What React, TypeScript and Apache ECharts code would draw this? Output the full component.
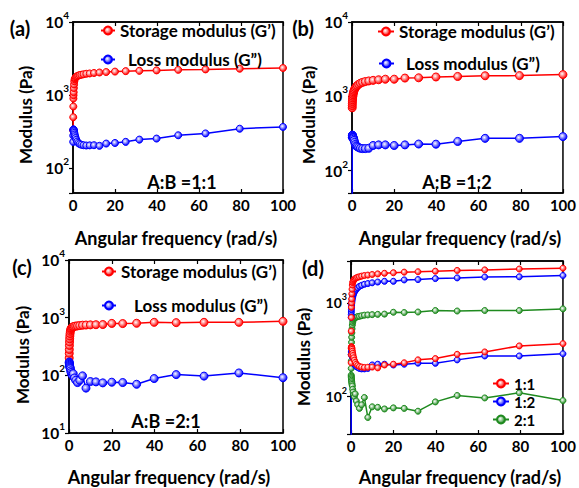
import React, { useEffect, useRef } from 'react';
import * as echarts from 'echarts';

// Angular frequency (rad/s), 10 points per decade
const FREQ = [0.1, 0.126, 0.158, 0.2, 0.251, 0.316, 0.398, 0.501, 0.631, 0.794, 1, 1.26, 1.58, 2, 2.51, 3.16, 3.98, 5.01, 6.31, 7.94, 10, 12.6, 15.8, 20, 25.1, 31.6, 39.8, 50.1, 63.1, 79.4, 100];

// A:B = 1:1
const A_STORAGE = [330, 500, 700, 900, 1000, 1100, 1250, 1400, 1550, 1650, 1700, 1750, 1790, 1820, 1850, 1880, 1900, 1930, 1960, 1980, 2010, 2040, 2070, 2100, 2130, 2150, 2180, 2220, 2250, 2300, 2350];
const A_LOSS = [230, 280, 330, 340, 340, 335, 330, 320, 305, 290, 275, 260, 245, 232, 222, 215, 210, 207, 205, 206, 207, 203, 218, 222, 230, 247, 255, 283, 300, 348, 368];
// A:B = 1:2
const B_STORAGE = [700, 750, 800, 850, 900, 950, 1000, 1050, 1100, 1150, 1200, 1250, 1300, 1350, 1400, 1450, 1500, 1540, 1580, 1610, 1640, 1670, 1700, 1700, 1760, 1775, 1820, 1850, 1890, 1900, 1960];
const B_LOSS = [30, 280, 300, 300, 295, 290, 285, 280, 275, 265, 255, 240, 225, 215, 210, 205, 200, 198, 198, 200, 218, 222, 222, 218, 222, 228, 227, 247, 272, 272, 287];
// A:B = 2:1
const C_STORAGE = [200, 240, 280, 330, 380, 430, 480, 530, 580, 620, 650, 670, 685, 695, 705, 715, 720, 730, 740, 745, 750, 755, 760, 795, 790, 800, 830, 820, 830, 830, 864];
const C_LOSS = [170, 165, 160, 155, 150, 145, 140, 135, 130, 120, 112, 105, 100, 107, 90, 82, 75, 82, 98, 60, 78, 77, 74, 76, 75, 70, 88, 103, 97, 110, 91];

const STORAGE = 'Storage modulus (G’)';
const LOSS = 'Loss modulus (G”)';
const RATIOS = ['1:1', '1:2', '2:1'];
const PANEL_LABELS = ['(a)', '(b)', '(c)', '(d)'];
const RATIO_TEXTS = ['A:B =1:1', 'A:B =1:2', 'A:B =2:1'];
const X_TITLE = 'Angular frequency (rad/s)';
const Y_TITLE = 'Modulus (Pa)';

const FONT = 'Lato, "Open Sans", sans-serif';
const RED = '#ff0000';
const BLUE = '#0000ff';
const GREEN = '#1f8a1f';

const pairs = (vals: number[]) => FREQ.map((f, i) => [f, vals[i]]);

const grad = (c: string) =>
  new echarts.graphic.RadialGradient(0.4, 0.4, 0.6, [
    { offset: 0, color: '#ffffff' },
    { offset: 1, color: c },
  ]);

const mkSeries = (name: string, vals: number[], color: string, idx: number, size: number) => ({
  type: 'line',
  name,
  xAxisIndex: idx,
  yAxisIndex: idx,
  data: pairs(vals),
  symbol: 'circle',
  symbolSize: size,
  showAllSymbol: true,
  clip: true,
  lineStyle: { color, width: 1.5 },
  itemStyle: { color: grad(color), borderColor: color, borderWidth: 1 },
  emphasis: { disabled: true },
});

const yLabel = (size: number, sup: number, pad: number) => ({
  margin: 4,
  formatter: (v: number) => {
    const l = Math.log10(v);
    const e = Math.round(l);
    if (Math.abs(l - e) > 1e-6) return '';
    return `{b|10}{s|${e}}`;
  },
  rich: {
    b: { fontSize: size, fontWeight: 'bold', fontFamily: FONT, color: '#000' },
    s: { fontSize: sup, fontWeight: 'bold', fontFamily: FONT, color: '#000', padding: [0, 0, pad, 0] },
  },
});

const GRIDS = [
  { left: 73, top: 22, width: 210, height: 171 },
  { left: 352, top: 22, width: 213, height: 171 },
  { left: 69, top: 260, width: 214, height: 173 },
  { left: 351, top: 261, width: 216, height: 173 },
];
const Y_RANGES = [
  [46, 10000],
  [50, 10000],
  [10, 10000],
  [40, 2800],
];

export default function App() {
  const ref = useRef<HTMLDivElement>(null);
  useEffect(() => {
    if (!ref.current) return;
    const chart = echarts.init(ref.current, undefined, { renderer: 'svg' });
    const axisLine = { show: true, lineStyle: { color: '#000', width: 1.5 } };
    const xBottom = GRIDS.map((_, i) => ({
      type: 'value',
      gridIndex: i,
      min: 0,
      max: 100,
      interval: 20,
      axisLine,
      axisTick: { inside: true, length: 4, lineStyle: { color: '#000', width: 1.2 } },
      axisLabel: { fontSize: 15, fontWeight: 'bold', fontFamily: FONT, color: '#000', margin: 4 },
      splitLine: { show: false },
    }));
    const xTop = GRIDS.map((_, i) => ({
      type: 'value',
      gridIndex: i,
      position: 'top',
      min: 0,
      max: 100,
      interval: 20,
      axisLine,
      axisTick: { inside: true, length: 4, lineStyle: { color: '#000', width: 1.2 } },
      axisLabel: { show: false },
      splitLine: { show: false },
    }));
    const yAxes = GRIDS.map((_, i) => ({
      type: 'log',
      gridIndex: i,
      logBase: 10,
      min: Y_RANGES[i][0],
      max: Y_RANGES[i][1],
      axisLine,
      axisTick: { inside: false, length: 4, lineStyle: { color: '#000', width: 1.2 } },
      axisLabel: i === 3 ? yLabel(14, 9, 12) : yLabel(15.5, 10, 14),
      splitLine: { show: false },
      minorTick: { show: false },
    }));

    const series = [
      mkSeries(STORAGE, A_STORAGE, RED, 0, 7),
      mkSeries(LOSS, A_LOSS, BLUE, 0, 7),
      mkSeries(STORAGE, B_STORAGE, RED, 1, 8),
      mkSeries(LOSS, B_LOSS, BLUE, 1, 8),
      mkSeries(STORAGE, C_STORAGE, RED, 2, 8),
      mkSeries(LOSS, C_LOSS, BLUE, 2, 8),
      mkSeries(RATIOS[2], C_STORAGE, GREEN, 3, 6),
      mkSeries(RATIOS[2], C_LOSS, GREEN, 3, 6),
      mkSeries(RATIOS[1], B_STORAGE, BLUE, 3, 6),
      mkSeries(RATIOS[1], B_LOSS, BLUE, 3, 6),
      mkSeries(RATIOS[0], A_STORAGE, RED, 3, 6),
      mkSeries(RATIOS[0], A_LOSS, RED, 3, 6),
    ];

    const legText = (size: number, padLeft: number) => ({
      fontSize: size,
      fontWeight: 'bold',
      fontFamily: FONT,
      color: '#000',
      padding: [0, 0, 0, padLeft],
    });
    const leg = (name: string, left: number, cy: number, w: number, padLeft: number) => ({
      show: true,
      orient: 'vertical',
      left,
      top: cy - 10,
      padding: 0,
      itemWidth: w,
      itemHeight: 10,
      selectedMode: false,
      data: [name],
      textStyle: legText(17, padLeft),
    });
    const legends = [
      leg(STORAGE, 100, 32, 14, 0),
      leg(LOSS, 100, 61, 14, 8),
      leg(STORAGE, 377, 33, 16, 0),
      leg(LOSS, 378, 65, 15, 7),
      leg(STORAGE, 101, 273, 14, 0),
      leg(LOSS, 101, 307, 14, 13),
      {
        show: true,
        orient: 'vertical',
        left: 492,
        top: 376,
        padding: 0,
        itemWidth: 16,
        itemHeight: 10,
        itemGap: 3,
        selectedMode: false,
        data: RATIOS,
        textStyle: legText(15, 0),
      },
    ];

    const txt = (text: string, x: number, y: number, size: number, rot = 0) => ({
      type: 'text',
      x,
      y,
      rotation: rot,
      style: {
        text,
        fontSize: size,
        fontWeight: 'bold',
        fontFamily: FONT,
        fill: '#000',
        align: 'center',
        verticalAlign: 'middle',
      },
    });
    const graphic = [
      txt(PANEL_LABELS[0], 20, 28, 20),
      txt(PANEL_LABELS[1], 303, 28, 20),
      txt(PANEL_LABELS[2], 22, 267, 20),
      txt(PANEL_LABELS[3], 313, 268, 20),
      txt(RATIO_TEXTS[0], 182, 182, 18),
      txt(RATIO_TEXTS[1], 457, 182, 18),
      txt(RATIO_TEXTS[2], 166, 421, 18),
      txt(X_TITLE, 176, 238, 18),
      txt(X_TITLE, 460, 238, 18),
      txt(X_TITLE, 169, 477, 18),
      txt(X_TITLE, 460, 477, 18),
      txt(Y_TITLE, 25, 115, 17, Math.PI / 2),
      txt(Y_TITLE, 308, 115, 17, Math.PI / 2),
      txt(Y_TITLE, 22, 355, 17, Math.PI / 2),
      txt(Y_TITLE, 303, 357, 17, Math.PI / 2),
    ];

    chart.setOption({
      animation: false,
      backgroundColor: '#ffffff',
      grid: GRIDS.map((g) => ({ ...g, show: true, borderColor: '#000', borderWidth: 1.5 })),
      xAxis: [...xBottom, ...xTop],
      yAxis: yAxes,
      legend: legends,
      series,
      graphic,
    });
    return () => chart.dispose();
  }, []);
  return <div ref={ref} style={{ position: 'fixed', left: 0, top: 0, width: 579, height: 488 }} />;
}
